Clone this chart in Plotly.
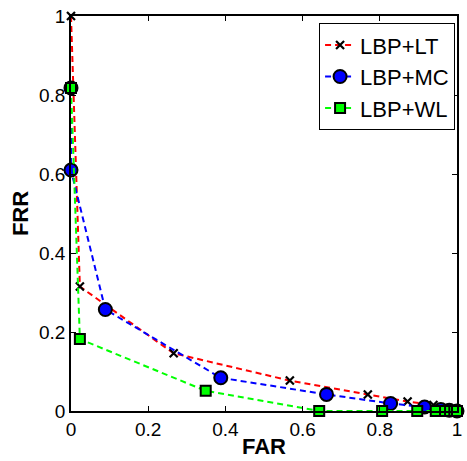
import plotly.graph_objects as go

# FAR / FRR operating points for each descriptor combination
lt_far = [0.0, 0.023, 0.266, 0.567, 0.769, 0.872, 0.939, 0.968, 0.988, 1.0]
lt_frr = [1.0, 0.315, 0.146, 0.077, 0.042, 0.024, 0.015, 0.007, 0.003, 0.0]

mc_far = [0.0, 0.0, 0.089, 0.388, 0.662, 0.828, 0.916, 0.958, 0.98, 1.0]
mc_frr = [0.818, 0.61, 0.257, 0.084, 0.042, 0.019, 0.010, 0.004, 0.002, 0.0]

wl_far = [0.0, 0.023, 0.349, 0.643, 0.806, 0.897, 0.945, 0.969, 0.982, 0.993, 1.0]
wl_frr = [0.818, 0.182, 0.051, 0.0, 0.0, 0.0, 0.0, 0.0, 0.0, 0.0, 0.0]

tick_vals = [0, 0.2, 0.4, 0.6, 0.8, 1]
tick_text = ["0", "0.2", "0.4", "0.6", "0.8", "1"]

FONT = "Liberation Sans"
DASH = "6px,4px"

fig = go.Figure()

fig.add_trace(go.Scatter(
    x=lt_far, y=lt_frr, name="LBP+LT", mode="lines+markers",
    line=dict(color="#ff0000", width=2, dash=DASH),
    marker=dict(symbol="x-thin", size=8, color="black",
                line=dict(color="black", width=2.2)),
    cliponaxis=False,
))
fig.add_trace(go.Scatter(
    x=mc_far, y=mc_frr, name="LBP+MC", mode="lines+markers",
    line=dict(color="#0000ff", width=2, dash=DASH),
    marker=dict(symbol="circle", size=13, color="#0000ff",
                line=dict(color="black", width=2)),
    cliponaxis=False,
))
fig.add_trace(go.Scatter(
    x=wl_far, y=wl_frr, name="LBP+WL", mode="lines+markers",
    line=dict(color="#00ff00", width=2, dash=DASH),
    marker=dict(symbol="square", size=10, color="#00ff00",
                line=dict(color="black", width=2)),
    cliponaxis=False,
))

axis_common = dict(
    range=[0, 1], tickvals=tick_vals, ticktext=tick_text,
    showgrid=False, zeroline=False, showline=True, mirror="ticks",
    linecolor="black", linewidth=1.5, ticks="inside", ticklen=5,
    tickcolor="black", tickfont=dict(family=FONT, size=19, color="black"),
)

fig.update_layout(
    width=467, height=461,
    margin=dict(l=71, r=5, t=16, b=50),
    paper_bgcolor="white", plot_bgcolor="white",
    font=dict(family=FONT, color="black"),
    xaxis=dict(**axis_common,
               title=dict(text="<b>FAR</b>", font=dict(family=FONT, size=22),
                          standoff=0)),
    yaxis=dict(**axis_common,
               title=dict(text="<b>FRR</b>", font=dict(family=FONT, size=22),
                          standoff=4)),
    showlegend=True,
    legend=dict(
        x=0.995, y=0.982, xanchor="right", yanchor="top",
        bgcolor="white", bordercolor="black", borderwidth=1,
        font=dict(family=FONT, size=22, color="black"),
        tracegroupgap=0, itemwidth=30,
    ),
)

fig.write_html("out.html")
